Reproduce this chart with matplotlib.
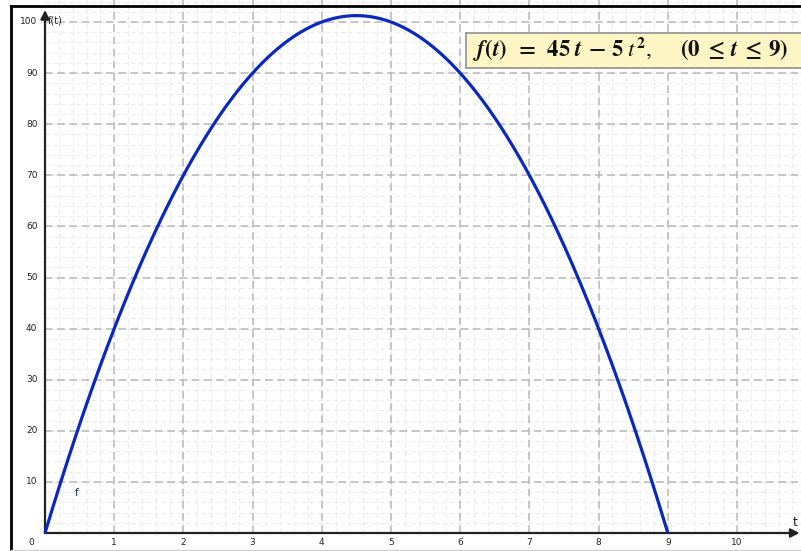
import numpy as np
import matplotlib.pyplot as plt
from matplotlib.lines import Line2D
from matplotlib.patches import Rectangle

# function shown in the chart: f(t) = 45 t - 5 t^2 on 0 <= t <= 9
coef_lin = 45
coef_sq = 5
t_start, t_end = 0, 9

x_ticks = [1, 2, 3, 4, 5, 6, 7, 8, 9, 10]
y_ticks = [10, 20, 30, 40, 50, 60, 70, 80, 90, 100]
x_minor_step = 0.2
y_minor_step = 2

plt.rcParams['mathtext.fontset'] = 'stix'

W, H = 801, 551
fig = plt.figure(figsize=(W / 100, H / 100), dpi=100)
ax = fig.add_axes([0, 0, 1, 1])
ax.set_axis_off()

# pixel layout of the reference
x0_px, px_per_t = 45, 69.2
y0_px, px_per_f = 533, 5.11
xmin = -x0_px / px_per_t
xmax = (W - x0_px) / px_per_t
ymax = y0_px / px_per_f
ymin = -(H - y0_px) / px_per_f
ax.set_xlim(xmin, xmax)
ax.set_ylim(ymin, ymax)

# minor grid
for t in np.arange(x_minor_step, xmax, x_minor_step):
    ax.vlines(t, 0, ymax, colors='#ececec', linestyles=(0, (4, 3)), lw=0.8, zorder=1)
for f in np.arange(y_minor_step, ymax, y_minor_step):
    ax.hlines(f, 0, xmax, colors='#ececec', linestyles=(0, (4, 3)), lw=0.8, zorder=1)

# major grid
for t in x_ticks:
    ax.vlines(t, 0, ymax, colors='#b8b8b8', linestyles=(0, (5, 3)), lw=1.1, zorder=2)
for f in y_ticks:
    ax.hlines(f, 0, xmax, colors='#b8b8b8', linestyles=(0, (5, 3)), lw=1.1, zorder=2)

# axes with arrows
ax.annotate('', xy=(xmax - 0.02, 0), xytext=(0, 0),
            arrowprops=dict(arrowstyle='-|>', color='#222222', lw=1.6,
                            mutation_scale=13, shrinkA=0, shrinkB=0), zorder=4)
ax.annotate('', xy=(0, (y0_px - 10) / px_per_f), xytext=(0, 0),
            arrowprops=dict(arrowstyle='-|>', color='#222222', lw=1.6,
                            mutation_scale=13, shrinkA=0, shrinkB=0), zorder=4)

# tick labels
for t in x_ticks:
    ax.text(t, -1.9, str(t), ha='center', va='center', fontsize=6.5, color='#222222')
ax.text(-0.15, -1.9, '0', ha='right', va='center', fontsize=6.5, color='#222222')
for f in y_ticks:
    ax.text(-0.11, f, str(f), ha='right', va='center', fontsize=6.5, color='#222222')

ax.text(0.04, 100.3, 'f(t)', ha='left', va='center', fontsize=7, color='#222222')
ax.text(xmax - 0.09, 2.0, 't', ha='center', va='center', fontsize=9, color='#222222')

# curve
t = np.linspace(t_start, t_end, 400)
f = coef_lin * t - coef_sq * t ** 2
ax.plot(t, f, color='#0a28c0', lw=2.3, zorder=5, solid_capstyle='butt')
ax.text(0.46, 7.9, 'f', ha='center', va='center', fontsize=7.5, color='#1a2a80', zorder=6)

# formula box
box_x0 = (466 - x0_px) / px_per_t
box_y0 = (y0_px - 68) / px_per_f
box_h = 35 / px_per_f
ax.add_patch(Rectangle((box_x0, box_y0), xmax - box_x0 + 0.1, box_h,
                       fc='#fdf5c4', ec='#999999', lw=1.3, zorder=7))
formula = (r'$\boldsymbol{f(t)\;\;=\;\;45\;t\;-\;5\;t^{\mathbf{2}},'
           r'\quad\;\;(0\;\leq\;t\;\leq\;9)}$')
ax.text(box_x0 + 0.1, box_y0 + box_h / 2 + 0.2, formula,
        ha='left', va='center', fontsize=16.5, color='#111111', zorder=8)

# frame of the picture
fig.add_artist(Line2D([11 / W, 11 / W], [1 - 6 / H, 1 - 549 / H], color='black', lw=2))
fig.add_artist(Line2D([11 / W, 1], [1 - 6 / H, 1 - 6 / H], color='black', lw=2))
fig.add_artist(Line2D([11 / W, 1], [1 - 550 / H, 1 - 550 / H], color='#d0d0d0', lw=1))

fig.savefig('out.png', dpi=100)
